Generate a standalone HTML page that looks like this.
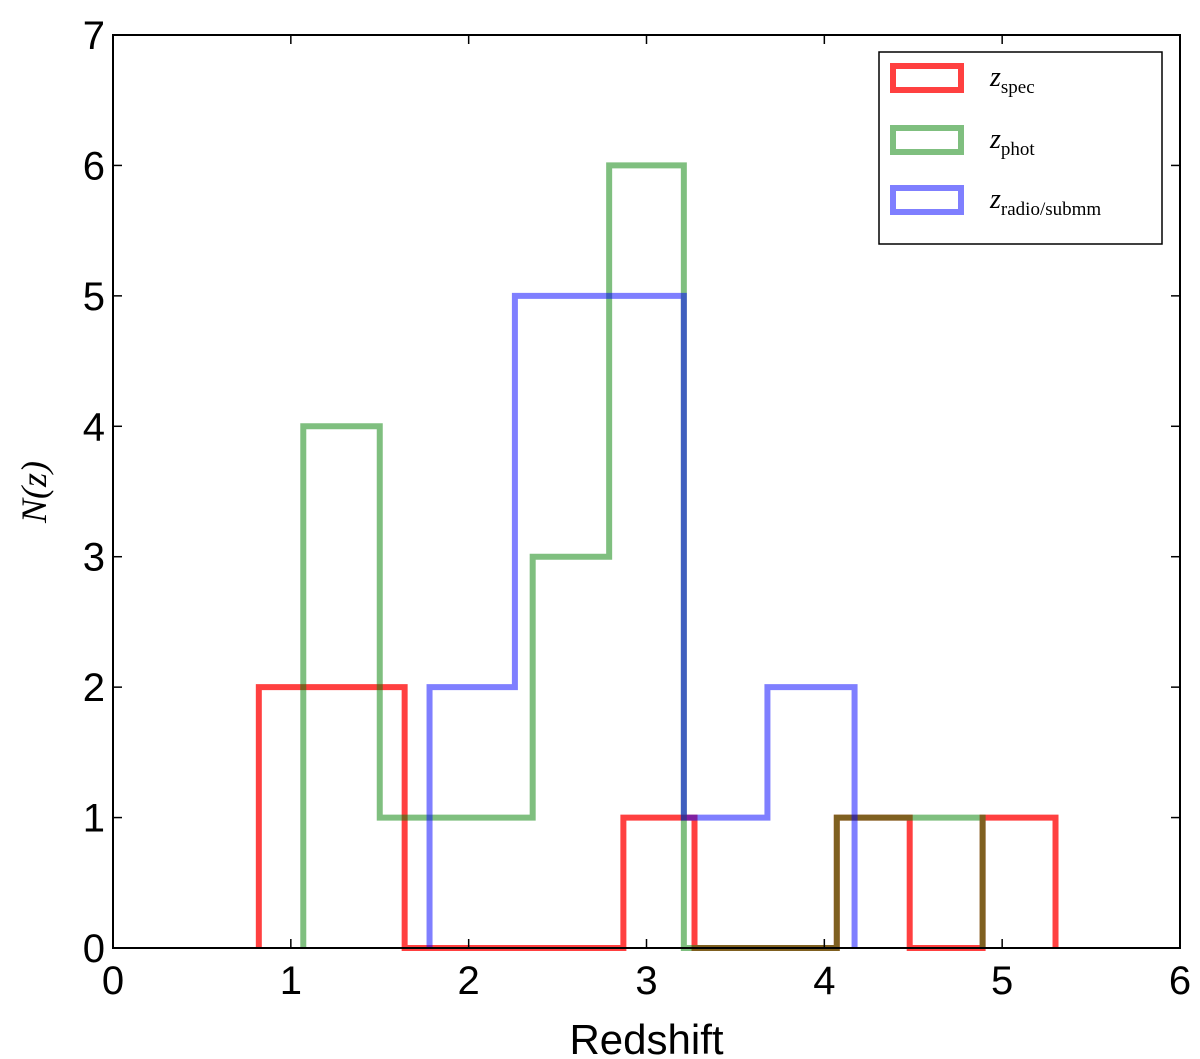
<!DOCTYPE html>
<html><head><meta charset="utf-8"><style>
body{margin:0;background:#fff;}
svg{display:block;font-family:"Liberation Sans",sans-serif;}
</style></head><body>
<svg id="chart" width="1200" height="1059">
<g id="marks"></g>
<g id="axes"></g>
</svg>
<script>
const redEdges=[0.82,1.64,2.87,3.27,4.07,4.48,4.89,5.30];
const redCounts=[2,0,1,0,1,0,1];
const greenEdges=[1.07,1.50,2.36,2.79,3.21,4.07,4.89];
const greenCounts=[4,1,3,6,0,1];
const blueEdges=[1.78,2.26,3.21,3.68,4.17];
const blueCounts=[2,5,1,2];
const xTicks=[0,1,2,3,4,5,6];
const yTicks=[0,1,2,3,4,5,6,7];

const X0=113,X1=1180,Y0=948,Y1=35;
const sx=v=>X0+(X1-X0)*v/6;
const sy=v=>Y0-(Y0-Y1)*v/7;
const NS="http://www.w3.org/2000/svg";
const marks=document.getElementById('marks');
const axes=document.getElementById('axes');
function mk(tag,attrs,parent){const e=document.createElementNS(NS,tag);for(const k in attrs)e.setAttribute(k,attrs[k]);parent.appendChild(e);return e;}

function stepPath(edges,counts){
  let d=`M${sx(edges[0])},${sy(0)}`;
  for(let i=0;i<counts.length;i++){
    d+=` L${sx(edges[i])},${sy(counts[i])} L${sx(edges[i+1])},${sy(counts[i])}`;
  }
  d+=` L${sx(edges[edges.length-1])},${sy(0)}`;
  return d;
}
const series=[
  ['hist-zspec',redEdges,redCounts,'rgba(255,0,0,0.75)'],
  ['hist-zphot',greenEdges,greenCounts,'rgba(0,128,0,0.5)'],
  ['hist-zradio-submm',blueEdges,blueCounts,'rgba(0,0,255,0.5)']
];
series.forEach(s=>{
  const p=mk('path',{d:stepPath(s[1],s[2]),fill:'none',stroke:s[3],'stroke-width':6,'stroke-linejoin':'miter'},marks);
  
  
});

const frame=mk('rect',{x:X0,y:Y1,width:X1-X0,height:Y0-Y1,fill:'none',stroke:'#000','stroke-width':2},axes);



xTicks.forEach(t=>{
  const x=sx(t);
  mk('line',{x1:x,y1:Y0,x2:x,y2:Y0-9,stroke:'#000','stroke-width':1.5},axes);
  mk('line',{x1:x,y1:Y1,x2:x,y2:Y1+9,stroke:'#000','stroke-width':1.5},axes);
  const tx=mk('text',{x:x,y:Y0+46,'font-size':40,'text-anchor':'middle'},axes);
  tx.textContent=t;
  
  
});
yTicks.forEach(t=>{
  const y=sy(t);
  mk('line',{x1:X0,y1:y,x2:X0+9,y2:y,stroke:'#000','stroke-width':1.5},axes);
  mk('line',{x1:X1,y1:y,x2:X1-9,y2:y,stroke:'#000','stroke-width':1.5},axes);
  const ty=mk('text',{x:X0-8,y:y+14,'font-size':40,'text-anchor':'end'},axes);
  ty.textContent=t;
  
  
});
const xl=mk('text',{x:(X0+X1)/2,y:1054,'font-size':42,'text-anchor':'middle'},axes);
xl.textContent='Redshift';


const yl=mk('text',{x:0,y:0,'font-size':36,'text-anchor':'middle','font-family':'Liberation Serif,serif','font-style':'italic',transform:'translate(46,492) rotate(-90)'},axes);
yl.textContent='N(z)';



const lg=mk('g',{},axes);


mk('rect',{x:879,y:52,width:283,height:192,fill:'#fff',stroke:'#000','stroke-width':1.5},lg);
const leg=[['z','spec','rgba(255,0,0,0.75)',78],['z','phot','rgba(0,128,0,0.5)',140],['z','radio/submm','rgba(0,0,255,0.5)',200]];
leg.forEach(l=>{
  const g=mk('g',{},lg);
  
  
  mk('rect',{x:893,y:l[3]-12,width:68,height:24,fill:'none',stroke:l[2],'stroke-width':6},g);
  const t=mk('text',{x:990,y:l[3]+8,'font-size':28,'font-family':'Liberation Serif,serif'},g);
  const a=mk('tspan',{'font-style':'italic'},t);a.textContent=l[0];
  const b=mk('tspan',{'font-size':19,dy:7},t);b.textContent=l[1];
});
</script>
</body></html>
